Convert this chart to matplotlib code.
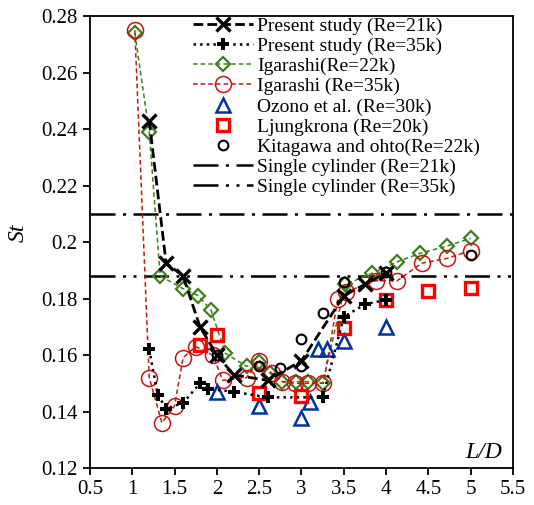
import matplotlib
matplotlib.use('Agg')
import matplotlib.pyplot as plt

# ---- dados ----
x_pres21 = [1.2, 1.4, 1.6, 1.8, 2.0, 2.2, 2.6, 3.0, 3.5, 3.75, 4.0]
y_pres21 = [0.243, 0.1925, 0.188, 0.170, 0.160, 0.153, 0.151, 0.158, 0.181, 0.185, 0.189]

x_pres35 = [1.2, 1.3, 1.4, 1.6, 1.8, 1.9, 2.2, 2.6, 3.25, 3.5, 3.75, 4.0]
y_pres35 = [0.162, 0.146, 0.141, 0.143, 0.150, 0.148, 0.147, 0.145, 0.145, 0.1735, 0.178, 0.1795]

x_iga22 = [1.03, 1.2, 1.33, 1.6, 1.78, 1.93, 2.1, 2.35, 2.5, 2.63, 2.77, 2.93, 3.08, 3.25,
           3.52, 3.83, 4.13, 4.4, 4.72, 5.0]
y_iga22 = [0.274, 0.239, 0.188, 0.1835, 0.181, 0.176, 0.1606, 0.156, 0.1576, 0.1535, 0.1506,
           0.1506, 0.1506, 0.150, 0.185, 0.1889, 0.193, 0.196, 0.1986, 0.2013]

x_iga35 = [1.03, 1.2, 1.35, 1.5, 1.6, 1.75, 1.95, 2.07, 2.35, 2.5, 2.65, 2.77, 2.92, 3.08,
           3.26, 3.43, 3.53, 3.88, 4.13, 4.42, 4.72, 5.0]
y_iga35 = [0.275, 0.152, 0.136, 0.142, 0.159, 0.163, 0.160, 0.151, 0.152, 0.158, 0.1535,
           0.1506, 0.150, 0.150, 0.150, 0.180, 0.1824, 0.1863, 0.1863, 0.1925, 0.1942, 0.197]

x_ozono = [2.0, 2.5, 3.0, 3.1, 3.2, 3.3, 3.5, 4.0]
y_ozono = [0.147, 0.142, 0.1376, 0.1435, 0.162, 0.162, 0.165, 0.170]

x_ljung = [1.8, 2.0, 2.5, 3.0, 3.5, 4.0, 4.5, 5.0]
y_ljung = [0.1635, 0.167, 0.1467, 0.1455, 0.1695, 0.1795, 0.1828, 0.1836]

x_kita = [2.0, 2.5, 2.75, 3.0, 3.0, 3.25, 3.5, 4.0, 5.0]
y_kita = [0.160, 0.156, 0.1555, 0.156, 0.1655, 0.175, 0.186, 0.1895, 0.1955]

st_single21 = 0.21
st_single35 = 0.188

xticks = [0.5, 1, 1.5, 2, 2.5, 3, 3.5, 4, 4.5, 5, 5.5]
yticks = [0.12, 0.14, 0.16, 0.18, 0.2, 0.22, 0.24, 0.26, 0.28]

plt.rcParams['font.family'] = ['Liberation Serif', 'DejaVu Serif']

fig = plt.figure(figsize=(5.34, 5.05), dpi=100)
ax = fig.add_axes([0.1685, 0.0733, 0.7922, 0.8947])

verde = '#3f7f1a'
verm = '#cc1111'
azul = '#0033a0'

ax.axhline(st_single21, color='black', lw=1.8, ls=(0, (10, 3, 1.2, 3)),
           label='Single cylinder (Re=21k)', zorder=1)
ax.axhline(st_single35, color='black', lw=1.8, ls=(0, (10, 3, 1.2, 3, 1.2, 3)),
           label='Single cylinder (Re=35k)', zorder=1)

l1, = ax.plot(x_pres21, y_pres21, color='black', ls=(0, (3.5, 1.5)), lw=2.0, marker='x',
              ms=9.5, mew=2.4, label='Present study (Re=21k)', zorder=5)
l2, = ax.plot(x_pres35, y_pres35, color='black', ls=':', lw=1.8, marker='P',
              ms=9, mew=0, label='Present study (Re=35k)', zorder=5)
l3, = ax.plot(x_iga22, y_iga22, color=verde, ls=(0, (3, 2)), lw=1.1, marker='D',
              ms=7.5, mfc='none', mec=verde, mew=1.6, label='Igarashi(Re=22k)', zorder=3)
l4, = ax.plot(x_iga35, y_iga35, color=verm, ls=(0, (3, 2)), lw=1.1, marker='o',
              ms=11.5, mfc='none', mec=verm, mew=1.1, label='Igarashi (Re=35k)', zorder=3)
l5, = ax.plot(x_ozono, y_ozono, ls='none', marker='^', ms=9.5, mfc='none', mec=azul,
              mew=1.8, label='Ozono et al. (Re=30k)', zorder=4)
l6, = ax.plot(x_ljung, y_ljung, ls='none', marker='s', ms=8.5, mfc='none', mec='#ff0000',
              mew=2.4, label='Ljungkrona (Re=20k)', zorder=4)
l7, = ax.plot(x_kita, y_kita, ls='none', marker='o', ms=7, mfc='none', mec='black',
              mew=1.5, label='Kitagawa and ohto(Re=22k)', zorder=4)

ax.set_xlim(0.5, 5.5)
ax.set_ylim(0.12, 0.28)
ax.set_xticks(xticks)
ax.set_xticklabels(['0.5', '1', '1.5', '2', '2.5', '3', '3.5', '4', '4.5', '5', '5.5'])
ax.set_yticks(yticks)
ax.set_yticklabels(['0.12', '0.14', '0.16', '0.18', '0.2', '0.22', '0.24', '0.26', '0.28'])
ax.tick_params(direction='out', length=5, width=1.3, labelsize=15, pad=4)
for s in ax.spines.values():
    s.set_linewidth(1.3)

ax.set_ylabel('St', fontsize=17, fontstyle='italic')
ax.yaxis.set_label_coords(-0.145, 0.52)
ax.text(0.974, 0.01, 'L/D', transform=ax.transAxes, fontsize=17, fontstyle='italic',
        ha='right', va='bottom')

handles = [l1, l2, l3, l4, l5, l6, l7] + ax.get_lines()[:2]
ax.legend(handles=handles, loc='upper left', bbox_to_anchor=(0.2435, 0.998), frameon=False,
          fontsize=14, labelspacing=0.13, handlelength=3.1, handletextpad=0.2,
          borderpad=0, borderaxespad=0, numpoints=1)

fig.savefig('out.png', dpi=100)
